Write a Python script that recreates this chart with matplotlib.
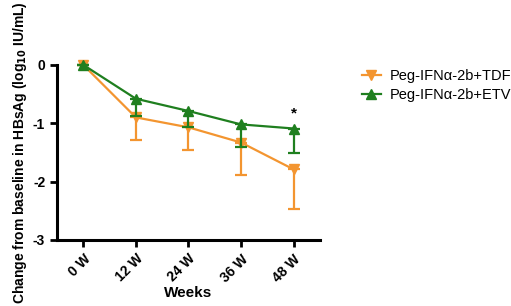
import matplotlib.pyplot as plt
from matplotlib.lines import Line2D
import numpy as np

plt.rcParams['font.family'] = ['Liberation Sans', 'DejaVu Sans']

weeks = ['0 W', '12 W', '24 W', '36 W', '48 W']
tdf_mean = [0.0, -0.90, -1.07, -1.33, -1.79]
tdf_err = [0.0, 0.39, 0.39, 0.56, 0.68]
etv_mean = [0.0, -0.58, -0.79, -1.02, -1.09]
etv_err = [0.0, 0.30, 0.28, 0.38, 0.42]

orange = '#F39530'
green = '#1F7F1F'

fig = plt.figure(figsize=(5.11, 3.06), dpi=100)
ax = fig.add_axes([0.1115, 0.2157, 0.5145, 0.5723])

x = np.arange(len(weeks))
ax.errorbar(x, tdf_mean, yerr=[tdf_err, np.zeros(len(x))], color=orange, lw=1.6,
            marker='v', ms=7, capsize=4, capthick=1.6, elinewidth=1.6,
            clip_on=False, zorder=3)
ax.errorbar(x, etv_mean, yerr=[etv_err, np.zeros(len(x))], color=green, lw=1.6,
            marker='^', ms=7, capsize=4, capthick=1.6, elinewidth=1.6,
            clip_on=False, zorder=4)

ax.text(4, etv_mean[4] + 0.14, '*', ha='center', va='bottom', fontsize=11, fontweight='bold')

ax.set_xlim(-0.5, 4.5)
ax.set_ylim(-3, 0)
ax.set_yticks([0, -1, -2, -3])
ax.set_yticklabels(['0', '-1', '-2', '-3'], fontweight='bold', fontsize=10)
ax.set_xticks(x)
ax.set_xticklabels(weeks, rotation=45, ha='right', rotation_mode='anchor',
                   fontweight='bold', fontsize=10)

for s in ['top', 'right']:
    ax.spines[s].set_visible(False)
for s in ['left', 'bottom']:
    ax.spines[s].set_linewidth(2.2)
ax.tick_params(width=2, length=5, direction='out')

ax.set_xlabel('Weeks', fontweight='bold', fontsize=11, labelpad=1)
ax.set_ylabel('Change from baseline in HBsAg (log$_{\\mathbf{10}}$ IU/mL)',
              fontweight='bold', fontsize=10, labelpad=3)

handles = [Line2D([], [], color=orange, marker='v', ms=7, lw=1.6),
           Line2D([], [], color=green, marker='^', ms=7, lw=1.6)]
ax.legend(handles, ['Peg-IFNα-2b+TDF', 'Peg-IFNα-2b+ETV'],
          loc='upper left', bbox_to_anchor=(1.11, 1.05), frameon=False,
          fontsize=10.5, handlelength=1.3, handletextpad=0.6, labelspacing=0.35)

fig.savefig('out.png', dpi=100)
